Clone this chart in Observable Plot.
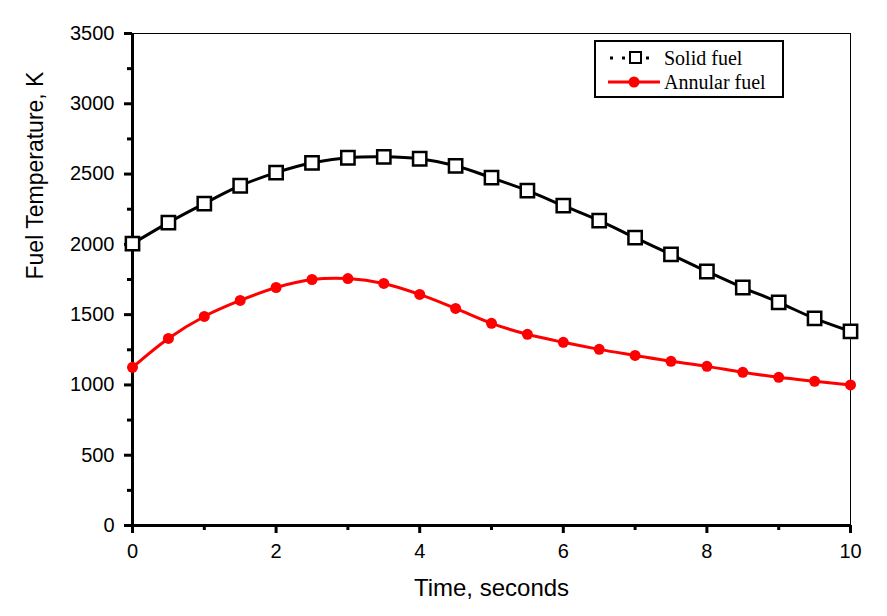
<!DOCTYPE html>
<html>
<head>
<meta charset="utf-8">
<script src="https://cdn.jsdelivr.net/npm/d3@7"></script>
<script src="https://cdn.jsdelivr.net/npm/@observablehq/plot@0.6"></script>
<style>
body { margin: 0; background: #fff; }
#wrap { position: relative; width: 887px; height: 616px; }
#legend { position: absolute; left: 594px; top: 40px; width: 186px; height: 54px; border: 2px solid #000; background: #fff; font-family: "Liberation Serif", "Times New Roman", serif; font-size: 20px; }
.row { position: absolute; left: 12px; height: 24px; display: flex; align-items: center; }
.row svg { margin-right: 4px; }
</style>
</head>
<body>
<div id="wrap"></div>
<script>
const time = [0,0.5,1,1.5,2,2.5,3,3.5,4,4.5,5,5.5,6,6.5,7,7.5,8,8.5,9,9.5,10];
const solidFuel = [2005,2155,2290,2417,2510,2580,2616,2623,2609,2559,2474,2382,2275,2169,2048,1928,1807,1693,1587,1473,1381];
const annularFuel = [1125,1331,1487,1601,1693,1750,1757,1722,1644,1544,1438,1360,1303,1253,1210,1168,1132,1090,1054,1026,1000];
const seriesNames = ["Solid fuel", "Annular fuel"];
const yTicks = [0,500,1000,1500,2000,2500,3000,3500];
const yMinor = [250,750,1250,1750,2250,2750,3250];
const xTicks = [0,2,4,6,8,10];
const xMinor = [1,3,5,7,9];

const solid = time.map((t,i) => ({t, v: solidFuel[i]}));
const annular = time.map((t,i) => ({t, v: annularFuel[i]}));

const chart = Plot.plot({
  width: 887, height: 616,
  marginLeft: 132, marginRight: 37, marginTop: 33, marginBottom: 91,
  style: {fontFamily: "'Liberation Sans', Arial, sans-serif", fontSize: "20px", color: "#000", background: "#fff"},
  x: {domain: [0,10]},
  y: {domain: [0,3500]},
  marks: [
    Plot.axisY({ticks: yTicks, tickFormat: d => String(d), tickSize: 8, strokeWidth: 3, tickPadding: 10, label: null, fontSize: 20}),
    Plot.axisY({ticks: yMinor, tickSize: 5, strokeWidth: 3, text: null, label: null}),
    Plot.axisX({ticks: xTicks, tickFormat: d => String(d), tickSize: 8, strokeWidth: 3, tickPadding: 10, label: null, fontSize: 20}),
    Plot.axisX({ticks: xMinor, tickSize: 5, strokeWidth: 3, text: null, label: null}),
    Plot.ruleY([3500], {stroke: "#000", strokeWidth: 1}),
    Plot.ruleX([10], {stroke: "#000", strokeWidth: 1}),
    Plot.ruleX([0], {stroke: "#000", strokeWidth: 3}),
    Plot.ruleY([0], {stroke: "#000", strokeWidth: 3}),
    Plot.line(annular, {x: "t", y: "v", stroke: "#f00", strokeWidth: 3, curve: "catmull-rom"}),
    Plot.dot(annular, {x: "t", y: "v", fill: "#f00", stroke: "none", r: 5.5}),
    Plot.line(solid, {x: "t", y: "v", stroke: "#000", strokeWidth: 3, curve: "catmull-rom"}),
    Plot.dot(solid, {x: "t", y: "v", symbol: "square", fill: "#fff", stroke: "#000", strokeWidth: 2.5, r: 7.5}),
    Plot.text(["Time, seconds"], {frameAnchor: "bottom", dy: 70, fontSize: 24, textAnchor: "middle", letterSpacing: "0.5px"}),
    Plot.text(["Fuel Temperature, K"], {frameAnchor: "left", dx: -97, rotate: -90, fontSize: 23})
  ]
});
document.getElementById("wrap").appendChild(chart);

const legend = document.createElement("div");
legend.id = "legend";
legend.innerHTML = `
  <div class="row" style="top:4px"><svg width="52" height="16"><line x1="2" y1="8" x2="50" y2="8" stroke="#000" stroke-width="3" stroke-dasharray="3,9"/><rect x="22" y="2" width="11" height="11" fill="#fff" stroke="#000" stroke-width="2"/></svg><span>${seriesNames[0]}</span></div>
  <div class="row" style="top:28px"><svg width="52" height="16"><line x1="0" y1="8" x2="52" y2="8" stroke="#f00" stroke-width="3"/><circle cx="26" cy="8" r="5.5" fill="#f00"/></svg><span>${seriesNames[1]}</span></div>`;
document.getElementById("wrap").appendChild(legend);
</script>
</body>
</html>
